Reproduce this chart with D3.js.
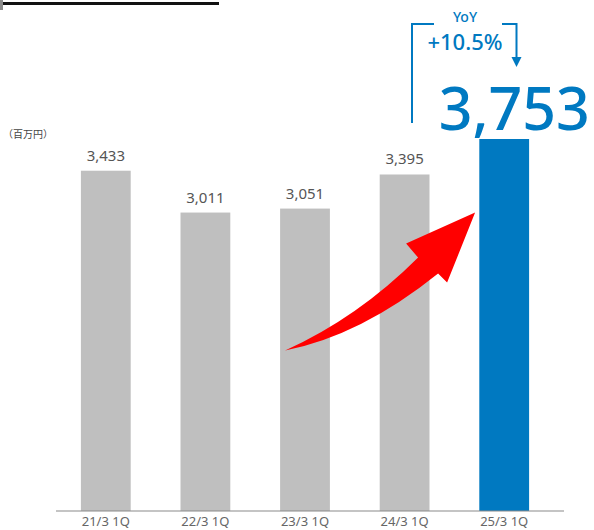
<!DOCTYPE html>
<html>
<head>
<meta charset="utf-8">
<script src="https://cdn.jsdelivr.net/npm/d3@7"></script>
<style>
  body { margin: 0; background: #fff; }
  svg { display: block; font-family: "Noto Sans", "Noto Sans CJK JP", sans-serif; }
</style>
</head>
<body>
<script>
// Chart data
const periods = ["21/3 1Q", "22/3 1Q", "23/3 1Q", "24/3 1Q", "25/3 1Q"];
const sales = [3433, 3011, 3051, 3395, 3753];
const unitLabel = "（百万円）";
const yoyLabel = "YoY";
const yoyValue = "+10.5%";

// Chart dimension
const width = 594;
const height = 530;
const baseY = 511;

const svg = d3.select("body")
    .append("svg")
    .attr("width", width)
    .attr("height", height);

// Scales
const x = d3.scaleBand()
    .domain(periods)
    .range([56, 554])
    .paddingInner(0.5)
    .paddingOuter(0.25);

const y = d3.scaleLinear()
    .domain([0, d3.max(sales)])
    .range([baseY, 139]);

// Header rule
svg.append("rect")
    .attr("x", 0).attr("y", 0)
    .attr("width", 3).attr("height", 10)
    .attr("fill", "#8c8c8c");
svg.append("rect")
    .attr("x", 3).attr("y", 2)
    .attr("width", 216).attr("height", 3)
    .attr("fill", "#111");

// Bars
const last = periods.length - 1;
svg.selectAll(".bar")
    .data(sales)
    .enter()
    .append("rect")
    .attr("class", "bar")
    .attr("x", (d, i) => x(periods[i]))
    .attr("y", d => y(d))
    .attr("width", x.bandwidth())
    .attr("height", d => baseY - y(d))
    .attr("fill", (d, i) => i === last ? "#0079c1" : "#bfbfbf");

// Value labels (all but the highlighted one)
svg.selectAll(".val")
    .data(sales.slice(0, last))
    .enter()
    .append("text")
    .attr("class", "val")
    .attr("x", (d, i) => x(periods[i]) + x.bandwidth() / 2)
    .attr("y", d => y(d) - 10)
    .attr("text-anchor", "middle")
    .attr("font-size", 15)
    .attr("fill", "#555")
    .text(d => d3.format(",")(d));

// Baseline axis
const xAxis = d3.axisBottom(x).tickSize(0).tickPadding(6);
const axisG = svg.append("g")
    .attr("transform", `translate(0, ${baseY})`)
    .call(xAxis);
axisG.select(".domain")
    .attr("d", `M56,0H564`)
    .attr("stroke", "#8a8a8a")
    .attr("stroke-width", 1.2);
axisG.selectAll("text")
    .attr("font-size", 13)
    .attr("font-family", "Noto Sans, sans-serif")
    .attr("fill", "#666");

// Unit label
svg.append("text")
    .attr("x", 3)
    .attr("y", 138)
    .attr("font-size", 10)
    .attr("fill", "#444")
    .text(unitLabel);

// Highlight value
const cx = x(periods[last]) + x.bandwidth() / 2;
svg.append("text")
    .attr("x", cx + 10)
    .attr("y", y(sales[last]) - 9)
    .attr("text-anchor", "middle")
    .attr("font-size", 59)
    .attr("font-weight", 500)
    .attr("fill", "#0079c1")
    .text(d3.format(",")(sales[last]));

// YoY bracket
const blue = "#0079c1";
svg.append("path")
    .attr("d", "M412,123V24H434 M502,24H516.5V58")
    .attr("fill", "none")
    .attr("stroke", blue)
    .attr("stroke-width", 2);
svg.append("path")
    .attr("d", "M511.5,57H521.5L516.5,67Z")
    .attr("fill", blue);
svg.append("text")
    .attr("x", 465)
    .attr("y", 22)
    .attr("text-anchor", "middle")
    .attr("font-size", 14)
    .attr("font-weight", 500)
    .attr("fill", blue)
    .text(yoyLabel);
svg.append("text")
    .attr("x", 465)
    .attr("y", 50)
    .attr("text-anchor", "middle")
    .attr("font-size", 22)
    .attr("font-weight", 500)
    .attr("fill", blue)
    .text(yoyValue);

// Red growth arrow (local coords, tail at origin)
const tailX = x(periods[2]) + 5;
const tailY = y(sales[2]) + 142;
svg.append("path")
    .attr("transform", `translate(${tailX}, ${tailY})`)
    .attr("d", "M0,0 Q73,-33 133,-93 L121,-107 L190,-138 L162,-68 L153,-77 Q76,-15 0,0 Z")
    .attr("fill", "#ff0000");
</script>
</body>
</html>
